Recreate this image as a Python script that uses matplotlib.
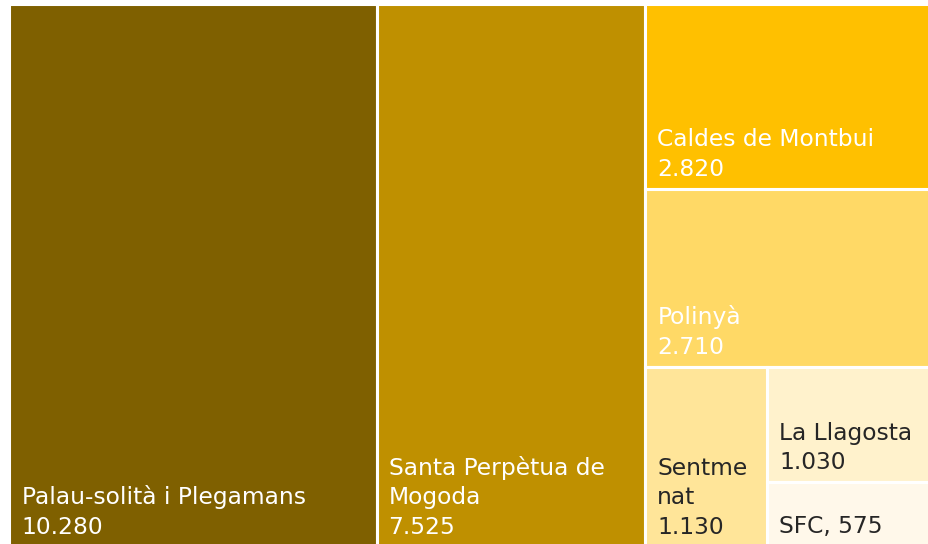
import matplotlib.pyplot as plt
from matplotlib.patches import Rectangle

# Data
names = ["Palau-solità i Plegamans", "Santa Perpètua de\nMogoda", "Caldes de Montbui",
         "Polinyà", "Sentme\nnat", "La Llagosta", "SFC"]
values = [10280, 7525, 2820, 2710, 1130, 1030, 575]
colors = ["#7F6000", "#BF9000", "#FFC000", "#FFD966", "#FFE599", "#FFF2CC", "#FFF8EA"]
text_colors = ["white", "white", "white", "white", "#262626", "#262626", "#262626"]
inline_label = [False, False, False, False, False, False, True]


def worst(row, w):
    s = sum(row)
    return max(max(w * w * r / (s * s), s * s / (w * w * r)) for r in row)


def squarify(vals, x, y, dx, dy):
    # vals already scaled to area dx*dy
    rects = []
    vals = list(vals)
    while vals:
        w = min(dx, dy)
        row = [vals[0]]
        i = 1
        while i < len(vals) and worst(row + [vals[i]], w) <= worst(row, w):
            row.append(vals[i])
            i += 1
        vals = vals[i:]
        s = sum(row)
        if dx >= dy:
            width = s / dy
            yy = y
            for r in row:
                h = r / width
                rects.append((x, yy, width, h))
                yy += h
            x += width
            dx -= width
        else:
            height = s / dx
            xx = x
            for r in row:
                wd = r / height
                rects.append((xx, y, wd, height))
                xx += wd
            y += height
            dy -= height
    return rects


W, H = 931.0, 543.0
total = sum(values)
scaled = [v * W * H / total for v in values]
rects = squarify(scaled, 0, 0, W, H)

fig = plt.figure(figsize=(9.29, 5.44), dpi=100)
ax = fig.add_axes([9.5 / 929, (544 - 3.5 - H) / 544, W / 929, H / 544])
ax.set_xlim(0, W)
ax.set_ylim(H, 0)
ax.axis("off")

for (x, y, w, h), name, v, c, tc, inl in zip(rects, names, values, colors, text_colors, inline_label):
    ax.add_patch(Rectangle((x, y), w, h, facecolor=c, edgecolor="white", linewidth=2.2))
    val = f"{v:,}".replace(",", ".")
    label = f"{name}, {val}" if inl else f"{name}\n{val}"
    ax.annotate(label, (x, y + h), xytext=(12, 8), textcoords="offset pixels",
                ha="left", va="bottom", color=tc, fontsize=16.8, family="DejaVu Sans",
                linespacing=1.36)

fig.savefig("out.png", dpi=100)
